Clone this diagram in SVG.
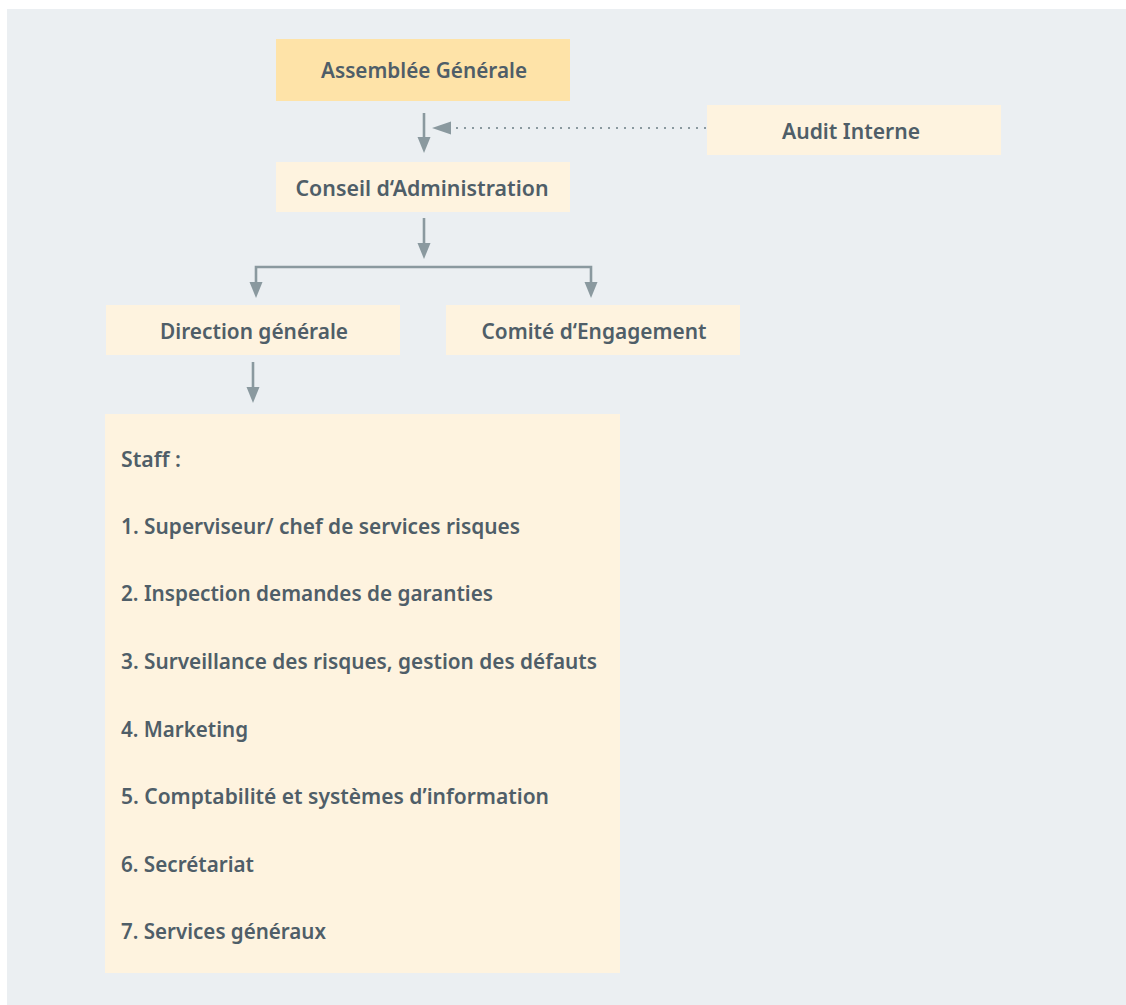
<svg xmlns="http://www.w3.org/2000/svg" width="1126" height="1005" viewBox="0 0 1126 1005">
  <defs>
    <style>
      .panel { fill: #ebeff2; }
      .box { fill: #fef3df; }
      .box-top { fill: #fee3a8; }
      .label { font-family: "Noto Sans", "Liberation Sans", sans-serif; font-weight: 600; font-size: 22px; fill: #4f5e68; }
      .center { text-anchor: middle; }
      .wire { fill: none; stroke: #8a999f; stroke-width: 2.6; }
      .dotted { fill: none; stroke: #8a999f; stroke-width: 2.2; stroke-dasharray: 2 6; }
      .head { fill: #8a999f; }
    </style>
  </defs>

  <!-- background panel -->
  <rect class="panel" x="7" y="9" width="1119" height="996"/>

  <!-- connectors -->
  <g id="connectors">
    <!-- Assemblée Générale -> Conseil d'Administration -->
    <line class="wire" x1="424" y1="113" x2="424" y2="139"/>
    <polygon class="head" points="417.5,137 430.5,137 424,153"/>
    <!-- Audit Interne -> main axis (dotted) -->
    <line class="dotted" x1="706" y1="128" x2="453" y2="128"/>
    <polygon class="head" points="432,128 451,121.5 451,134.5"/>
    <!-- Conseil d'Administration -> split -->
    <line class="wire" x1="424" y1="218" x2="424" y2="245"/>
    <polygon class="head" points="417.5,243 430.5,243 424,259"/>
    <!-- split to Direction générale and Comité d'Engagement -->
    <polyline class="wire" points="256,284 256,267 591,267 591,284"/>
    <polygon class="head" points="249.5,282 262.5,282 256,298"/>
    <polygon class="head" points="584.5,282 597.5,282 591,298"/>
    <!-- Direction générale -> Staff -->
    <line class="wire" x1="253" y1="362" x2="253" y2="389"/>
    <polygon class="head" points="246.5,387 259.5,387 253,403"/>
  </g>

  <g id="assemblee-generale">
    <rect class="box-top" x="276" y="39" width="294" height="62"/>
    <text class="label center" x="424" y="78" textLength="206" lengthAdjust="spacingAndGlyphs">Assemblée Générale</text>
  </g>

  <g id="audit-interne">
    <rect class="box" x="707" y="105" width="294" height="50"/>
    <text class="label center" x="851" y="139" textLength="138" lengthAdjust="spacingAndGlyphs">Audit Interne</text>
  </g>

  <g id="conseil-administration">
    <rect class="box" x="276" y="162" width="294" height="50"/>
    <text class="label center" x="422" y="196" textLength="253" lengthAdjust="spacingAndGlyphs">Conseil d‘Administration</text>
  </g>

  <g id="direction-generale">
    <rect class="box" x="106" y="305" width="294" height="50"/>
    <text class="label center" x="254" y="339" textLength="188" lengthAdjust="spacingAndGlyphs">Direction générale</text>
  </g>

  <g id="comite-engagement">
    <rect class="box" x="446" y="305" width="294" height="50"/>
    <text class="label center" x="594" y="339" textLength="225" lengthAdjust="spacingAndGlyphs">Comité d‘Engagement</text>
  </g>

  <g id="staff">
    <rect class="box" x="105" y="414" width="515" height="559"/>
    <text class="label" x="121" y="467" textLength="60" lengthAdjust="spacingAndGlyphs">Staff :</text>
    <text class="label" x="121" y="534" textLength="399" lengthAdjust="spacingAndGlyphs">1. Superviseur/ chef de services risques</text>
    <text class="label" x="121" y="601" textLength="372" lengthAdjust="spacingAndGlyphs">2. Inspection demandes de garanties</text>
    <text class="label" x="121" y="669" textLength="476" lengthAdjust="spacingAndGlyphs">3. Surveillance des risques, gestion des défauts</text>
    <text class="label" x="121" y="737" textLength="127" lengthAdjust="spacingAndGlyphs">4. Marketing</text>
    <text class="label" x="121" y="804" textLength="428" lengthAdjust="spacingAndGlyphs">5. Comptabilité et systèmes d’information</text>
    <text class="label" x="121" y="872" textLength="133" lengthAdjust="spacingAndGlyphs">6. Secrétariat</text>
    <text class="label" x="121" y="939" textLength="205" lengthAdjust="spacingAndGlyphs">7. Services généraux</text>
  </g>
</svg>
